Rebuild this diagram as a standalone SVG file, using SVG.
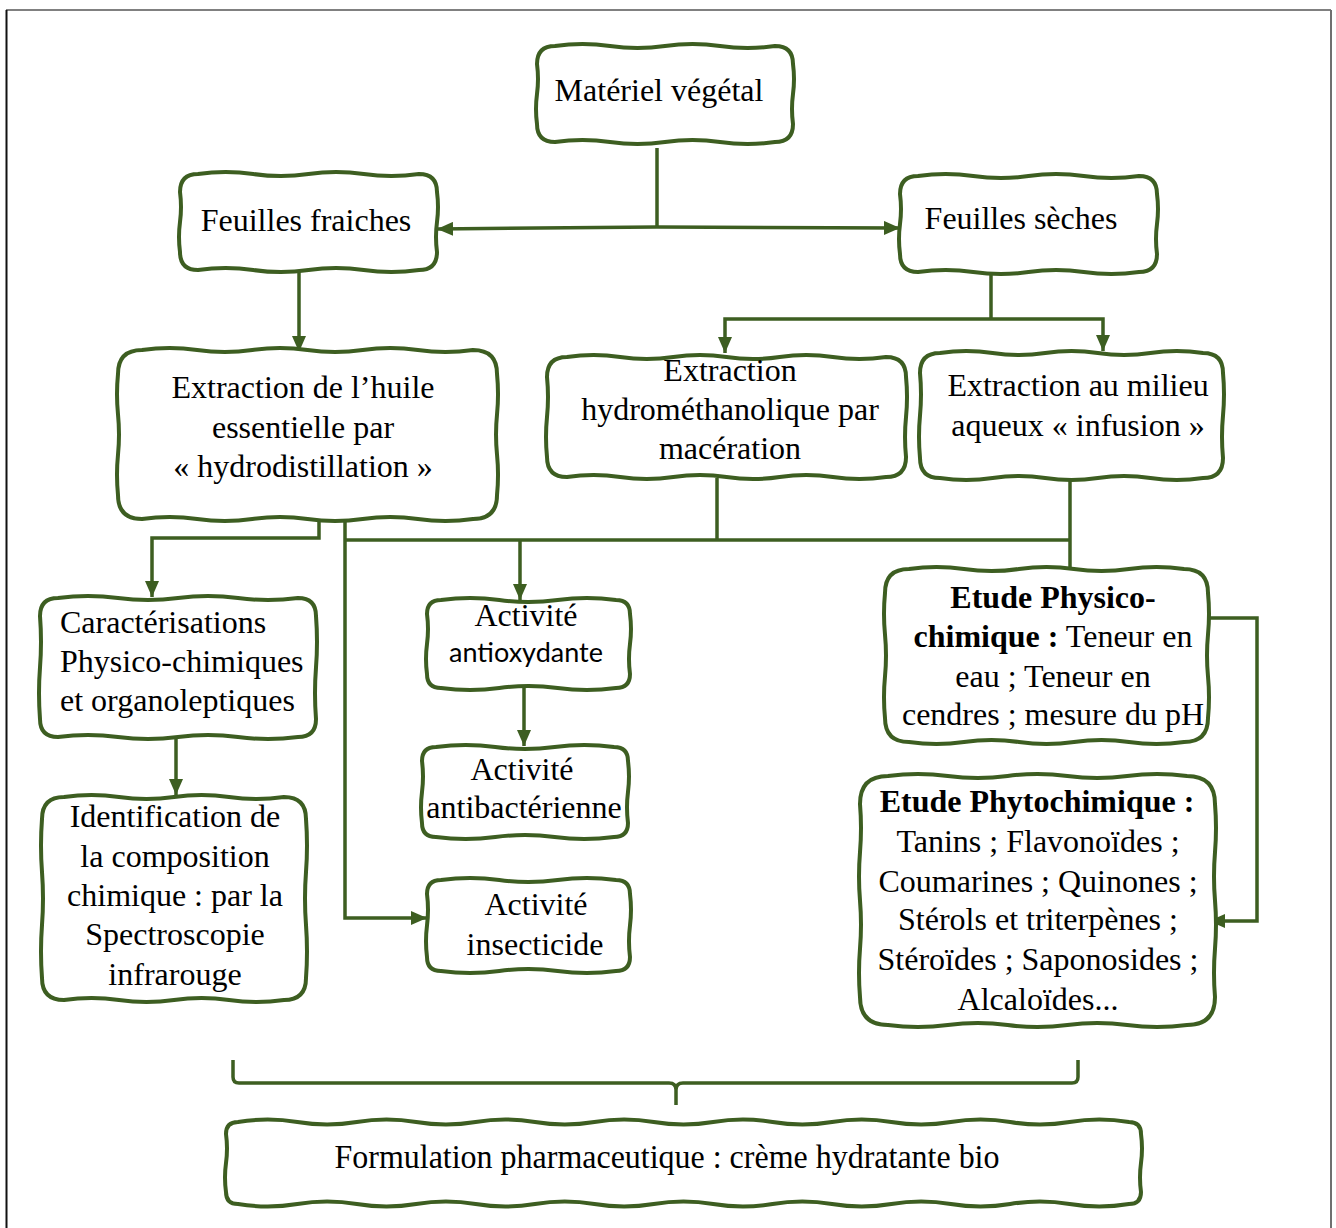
<svg xmlns="http://www.w3.org/2000/svg" width="1336" height="1228" viewBox="0 0 1336 1228">
<defs>
<marker id="ah" markerWidth="16" markerHeight="14" refX="16" refY="7" orient="auto" markerUnits="userSpaceOnUse"><path d="M0,0 L16,7 L0,14 Z" fill="#3d5e21"/></marker>
<style>
.box{fill:#fff;stroke:#3d5e21;stroke-width:4;stroke-linejoin:round}
.c{fill:none;stroke:#3d5e21;stroke-width:3.5}
.t{font-family:"Liberation Serif","Times New Roman",serif;font-size:32px;fill:#000;text-anchor:middle}
.l{text-anchor:start}
.b{font-weight:bold}
.s{font-family:Lato,"Open Sans",sans-serif;font-size:27px}
</style>
</defs>
<rect width="1336" height="1228" fill="#fff"/>
<g id="frame">
<line x1="6" y1="10" x2="1331" y2="10" stroke="#808080" stroke-width="2"/>
<line x1="1331" y1="10" x2="1331" y2="1228" stroke="#707070" stroke-width="2"/>
<line x1="6.5" y1="10" x2="6.5" y2="1228" stroke="#111" stroke-width="2"/>
</g>
<g id="connectors">
<path class="c" d="M657,148 V227"/>
<path class="c" d="M657,227 L437,229" marker-end="url(#ah)"/>
<path class="c" d="M657,227 L900,228" marker-end="url(#ah)"/>
<path class="c" d="M299,271 V352" marker-end="url(#ah)"/>
<path class="c" d="M991,272 V319"/>
<path class="c" d="M991,319 H725 V353" marker-end="url(#ah)"/>
<path class="c" d="M991,319 H1103 V351" marker-end="url(#ah)"/>
<path class="c" d="M319,518 V538 H152 V597" marker-end="url(#ah)"/>
<path class="c" d="M345,518 V918 H427" marker-end="url(#ah)"/>
<path class="c" d="M345,540 H1070"/>
<path class="c" d="M717,478 V540"/>
<path class="c" d="M1070,480 V569"/>
<path class="c" d="M520,540 V600" marker-end="url(#ah)"/>
<path class="c" d="M524,688 V746" marker-end="url(#ah)"/>
<path class="c" d="M176,737 V795" marker-end="url(#ah)"/>
<path class="c" d="M1205,618 H1257 V921 H1209" marker-end="url(#ah)"/>
<path class="c" d="M233,1060 v17 q0,6 6,6 h430 q7,0 7,7 v15 M676,1090 q0,-7 7,-7 h389 q6,0 6,-6 v-17"/>
</g>
<g id="n1">
<path class="box" d="M555,46 q27.5,-4 55,0 t55,0 t55,0 t55,0 q18,0 18,18 q2,15 0,30 t0,30 q0,18 -18,18 q-27.5,4 -55,0 t-55,0 t-55,0 t-55,0 q-18,0 -18,-18 q-2,-15 0,-30 t0,-30 q0,-18 18,-18 Z"/>
<text class="t" x="659" y="101">Matériel végétal</text>
</g>
<g id="n2">
<path class="box" d="M198,174 q27.6,-4 55.25,0 t55.25,0 t55.25,0 t55.25,0 q18,0 18,18 q2,15 0,30 t0,30 q0,18 -18,18 q-27.6,4 -55.25,0 t-55.25,0 t-55.25,0 t-55.25,0 q-18,0 -18,-18 q-2,-15 0,-30 t0,-30 q0,-18 18,-18 Z"/>
<text class="t" x="306" y="231">Feuilles fraiches</text>
</g>
<g id="n3">
<path class="box" d="M918,176 q27.6,-4 55.25,0 t55.25,0 t55.25,0 t55.25,0 q18,0 18,18 q2,15 0,30 t0,30 q0,18 -18,18 q-27.6,4 -55.25,0 t-55.25,0 t-55.25,0 t-55.25,0 q-18,0 -18,-18 q-2,-15 0,-30 t0,-30 q0,-18 18,-18 Z"/>
<text class="t" x="1021" y="229">Feuilles sèches</text>
</g>
<g id="n4">
<path class="box" d="M142,350 q27.6,-4 55.17,0 t55.17,0 t55.17,0 t55.17,0 t55.17,0 t55.17,0 q24,0 24,24 q2,20.2 0,40.33 t0,40.33 t0,40.33 q0,24 -24,24 q-27.6,4 -55.17,0 t-55.17,0 t-55.17,0 t-55.17,0 t-55.17,0 t-55.17,0 q-24,0 -24,-24 q-2,-20.2 0,-40.33 t0,-40.33 t0,-40.33 q0,-24 24,-24 Z"/>
<text class="t" x="303" y="398">Extraction de l’huile</text>
<text class="t" x="303" y="438">essentielle par</text>
<text class="t" x="303" y="477">« hydrodistillation »</text>
</g>
<g id="n5">
<path class="box" d="M567,357 q26.6,-4 53.17,0 t53.17,0 t53.17,0 t53.17,0 t53.17,0 t53.17,0 q20,0 20,20 q2,20 0,40 t0,40 q0,20 -20,20 q-26.6,4 -53.17,0 t-53.17,0 t-53.17,0 t-53.17,0 t-53.17,0 t-53.17,0 q-20,0 -20,-20 q-2,-20 0,-40 t0,-40 q0,-20 20,-20 Z"/>
<text class="t" x="730" y="381">Extraction</text>
<text class="t" x="730" y="420">hydrométhanolique par</text>
<text class="t" x="730" y="459">macération</text>
</g>
<g id="n6">
<path class="box" d="M940,353 q26.3,-4 52.6,0 t52.6,0 t52.6,0 t52.6,0 t52.6,0 q20,0 20,20 q2,21.25 0,42.5 t0,42.5 q0,20 -20,20 q-26.3,4 -52.6,0 t-52.6,0 t-52.6,0 t-52.6,0 t-52.6,0 q-20,0 -20,-20 q-2,-21.25 0,-42.5 t0,-42.5 q0,-20 20,-20 Z"/>
<text class="t" x="1078" y="396">Extraction au milieu</text>
<text class="t" x="1078" y="436">aqueux « infusion »</text>
</g>
<g id="n7">
<path class="box" d="M58,598 q30,-4 60,0 t60,0 t60,0 t60,0 q18,0 18,18 q2,25.75 0,51.5 t0,51.5 q0,18 -18,18 q-30,4 -60,0 t-60,0 t-60,0 t-60,0 q-18,0 -18,-18 q-2,-25.75 0,-51.5 t0,-51.5 q0,-18 18,-18 Z"/>
<text class="t l" x="60" y="633">Caractérisations</text>
<text class="t l" x="60" y="672">Physico-chimiques</text>
<text class="t l" x="60" y="711">et organoleptiques</text>
</g>
<g id="n8">
<path class="box" d="M64,797 q27.5,-4 55,0 t55,0 t55,0 t55,0 q22,0 22,22 q2,26.5 0,53 t0,53 t0,53 q0,22 -22,22 q-27.5,4 -55,0 t-55,0 t-55,0 t-55,0 q-22,0 -22,-22 q-2,-26.5 0,-53 t0,-53 t0,-53 q0,-22 22,-22 Z"/>
<text class="t" x="175" y="827">Identification de</text>
<text class="t" x="175" y="867">la composition</text>
<text class="t" x="175" y="906">chimique : par la</text>
<text class="t" x="175" y="945">Spectroscopie</text>
<text class="t" x="175" y="985">infrarouge</text>
</g>
<g id="n9">
<path class="box" d="M441,600 q29.2,-4 58.33,0 t58.33,0 t58.33,0 q14,0 14,14 q2,15 0,30 t0,30 q0,14 -14,14 q-29.2,4 -58.33,0 t-58.33,0 t-58.33,0 q-14,0 -14,-14 q-2,-15 0,-30 t0,-30 q0,-14 14,-14 Z"/>
<text class="t" x="526" y="626">Activité</text>
<text class="t s" x="526" y="662">antioxydante</text>
</g>
<g id="n10">
<path class="box" d="M436,747 q29.7,-4 59.33,0 t59.33,0 t59.33,0 q14,0 14,14 q2,15.5 0,31 t0,31 q0,14 -14,14 q-29.7,4 -59.33,0 t-59.33,0 t-59.33,0 q-14,0 -14,-14 q-2,-15.5 0,-31 t0,-31 q0,-14 14,-14 Z"/>
<text class="t" x="522" y="780">Activité</text>
<text class="t" x="524" y="818">antibactérienne</text>
</g>
<g id="n11">
<path class="box" d="M441,880 q29.2,-4 58.33,0 t58.33,0 t58.33,0 q14,0 14,14 q2,15.75 0,31.5 t0,31.5 q0,14 -14,14 q-29.2,4 -58.33,0 t-58.33,0 t-58.33,0 q-14,0 -14,-14 q-2,-15.75 0,-31.5 t0,-31.5 q0,-14 14,-14 Z"/>
<text class="t" x="536" y="915">Activité</text>
<text class="t" x="535" y="955">insecticide</text>
</g>
<g id="n12">
<path class="box" d="M909,569 q27.5,-4 55,0 t55,0 t55,0 t55,0 t55,0 q24,0 24,24 q2,20.8 0,41.67 t0,41.67 t0,41.67 q0,24 -24,24 q-27.5,4 -55,0 t-55,0 t-55,0 t-55,0 t-55,0 q-24,0 -24,-24 q-2,-20.8 0,-41.67 t0,-41.67 t0,-41.67 q0,-24 24,-24 Z"/>
<text class="t b" x="1053" y="608">Etude Physico-</text>
<text class="t" x="1053" y="647"><tspan class="b">chimique :</tspan> Teneur en</text>
<text class="t" x="1053" y="687">eau ; Teneur en</text>
<text class="t" x="1053" y="725">cendres ; mesure du pH</text>
</g>
<g id="n13">
<path class="box" d="M888,776 q29.9,-4 59.8,0 t59.8,0 t59.8,0 t59.8,0 t59.8,0 q28,0 28,28 q2,24.1 0,48.25 t0,48.25 t0,48.25 t0,48.25 q0,28 -28,28 q-29.9,4 -59.8,0 t-59.8,0 t-59.8,0 t-59.8,0 t-59.8,0 q-28,0 -28,-28 q-2,-24.1 0,-48.25 t0,-48.25 t0,-48.25 t0,-48.25 q0,-28 28,-28 Z"/>
<text class="t b" x="1037" y="812">Etude Phytochimique :</text>
<text class="t" x="1038" y="852">Tanins ; Flavonoïdes ;</text>
<text class="t" x="1038" y="892">Coumarines ; Quinones ;</text>
<text class="t" x="1038" y="930">Stérols et triterpènes ;</text>
<text class="t" x="1038" y="970">Stéroïdes ; Saponosides ;</text>
<text class="t" x="1038" y="1010">Alcaloïdes...</text>
</g>
<g id="n14">
<path class="box" d="M238,1122 q29.7,-5 59.4,0 t59.4,0 t59.4,0 t59.4,0 t59.4,0 t59.4,0 t59.4,0 t59.4,0 t59.4,0 t59.4,0 t59.4,0 t59.4,0 t59.4,0 t59.4,0 t59.4,0 q12,0 12,12 q2,14.5 0,29 t0,29 q0,12 -12,12 q-29.7,5 -59.4,0 t-59.4,0 t-59.4,0 t-59.4,0 t-59.4,0 t-59.4,0 t-59.4,0 t-59.4,0 t-59.4,0 t-59.4,0 t-59.4,0 t-59.4,0 t-59.4,0 t-59.4,0 t-59.4,0 q-12,0 -12,-12 q-2,-14.5 0,-29 t0,-29 q0,-12 12,-12 Z"/>
<text class="t" x="667" y="1168" textLength="665" lengthAdjust="spacingAndGlyphs" style="font-size:33px">Formulation pharmaceutique : crème hydratante bio</text>
</g>
</svg>
